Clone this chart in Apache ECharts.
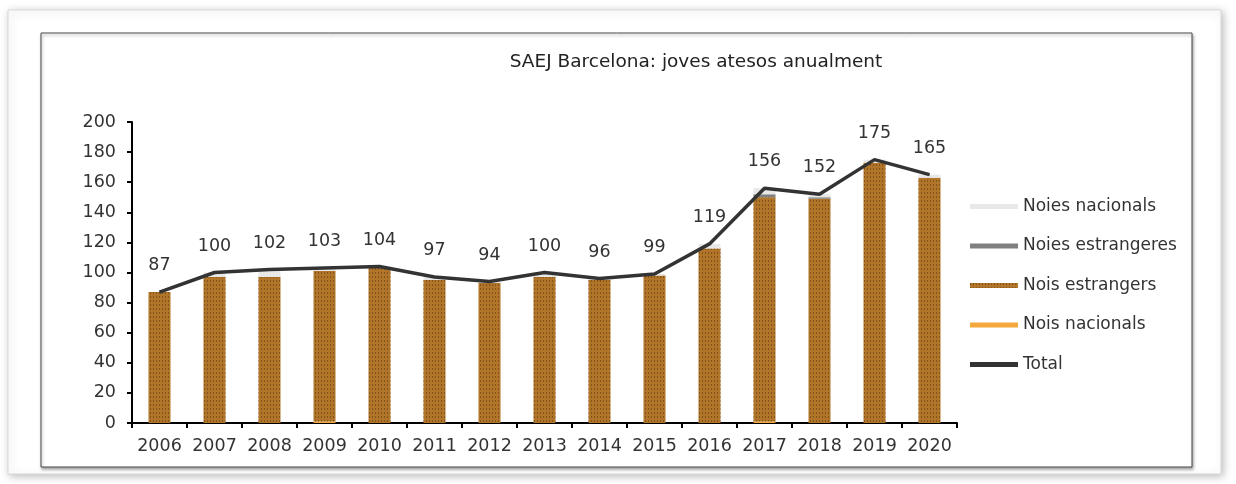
<!DOCTYPE html>
<html>
<head>
<meta charset="utf-8">
<script src="https://cdn.jsdelivr.net/npm/echarts@6/dist/echarts.min.js"></script>
<style>
html,body{margin:0;padding:0;background:#fff;}
#chart{width:1236px;height:484px;}
</style>
</head>
<body>
<div id="chart"></div>
<script>
const years = ['2006','2007','2008','2009','2010','2011','2012','2013','2014','2015','2016','2017','2018','2019','2020'];
const total = [87,100,102,103,104,97,94,100,96,99,119,156,152,175,165];
const noisNacionals = [0,0,0,1,0,0,0,0,0,0,0,1,0,0,0];
const noisEstrangers = [87,97,97,100,103,95,93,97,95,98,116,149,149,173,163];
const noiesEstrangeres = [0,0,0,0,0,0,0,0,0,0,0,2,1,0,0];
const noiesNacionals = [0,3,5,2,1,2,1,3,1,1,3,4,2,2,2];
const yTicks = [0,20,40,60,80,100,120,140,160,180,200];

const FONT = 'DejaVu Sans, Liberation Sans, Arial, sans-serif';
const chart = echarts.init(document.getElementById('chart'), null, {renderer:'canvas'});

const brown = '#B07528';
const option = {
  animation: false,
  backgroundColor: '#fff',
  graphic: [
    {type:'rect', z:-10, shape:{x:8,y:10,width:1213,height:464},
     style:{fill:'#fff', stroke:'#d8d8d8', lineWidth:1, shadowBlur:8, shadowColor:'rgba(0,0,0,0.25)', shadowOffsetX:2, shadowOffsetY:2}},
    {type:'rect', z:-9, shape:{x:41,y:33,width:1151,height:434},
     style:{fill:'#fff', stroke:'#4a4a4a', lineWidth:1, shadowBlur:3, shadowColor:'rgba(0,0,0,0.35)', shadowOffsetX:1, shadowOffsetY:2}}
  ],
  title: {
    text: 'SAEJ Barcelona: joves atesos anualment',
    left: 691, top: 48, textAlign: 'center',
    textStyle: {fontFamily: FONT, fontSize: 18.5, fontWeight: 'normal', color: '#222'}
  },
  legend: {
    orient: 'vertical', left: 965, top: 193, itemGap: 22.5,
    itemWidth: 48, itemHeight: 5,
    textStyle: {fontFamily: FONT, fontSize: 17, color: '#333'},
    data: [
      {name:'Noies nacionals', icon:'rect'},
      {name:'Noies estrangeres', icon:'rect'},
      {name:'Nois estrangers', icon:'rect'},
      {name:'Nois nacionals', icon:'rect'},
      {name:'Total', icon:'rect'}
    ]
  },
  grid: {left: 132, right: 279, top: 122, bottom: 61, containLabel: false},
  xAxis: {
    type: 'category', data: years, boundaryGap: true,
    axisLine: {lineStyle: {color: '#000', width: 2}},
    axisTick: {show: true, inside: false, length: 5, alignWithLabel: false, lineStyle: {color:'#000', width: 2}},
    axisLabel: {fontFamily: FONT, fontSize: 17.5, color: '#333', margin: 14, interval: 0}
  },
  yAxis: {
    type: 'value', min: 0, max: 200, interval: 20,
    axisLine: {show: true, lineStyle: {color: '#000', width: 2}},
    axisTick: {show: true, length: 5, lineStyle: {color:'#000', width: 2}},
    splitLine: {show: false},
    axisLabel: {fontFamily: FONT, fontSize: 17.5, color: '#333', margin: 16,
      formatter: v => yTicks.includes(v) ? String(v) : ''}
  },
  series: [
    {name:'Nois nacionals', type:'bar', stack:'a', barWidth: 22, data: noisNacionals,
     itemStyle:{color:'#F2A83A'}},
    {name:'Nois estrangers', type:'bar', stack:'a', barWidth: 22, data: noisEstrangers,
     itemStyle:{color: brown, decal:{symbol:'rect', symbolSize:1, color:'rgba(85,52,15,0.5)', dashArrayX:[1,2], dashArrayY:[2,2], rotation:0}}},
    {name:'Noies estrangeres', type:'bar', stack:'a', barWidth: 22, data: noiesEstrangeres,
     itemStyle:{color:'#808080'}},
    {name:'Noies nacionals', type:'bar', stack:'a', barWidth: 22, data: noiesNacionals,
     itemStyle:{color:'#E8E8E8'}},
    {name:'Total', type:'line', data: total, symbol:'circle', symbolSize: 1, showSymbol: true,
     lineStyle:{color:'#333', width: 3.5}, itemStyle:{color:'#333'},
     label:{show:true, position:'top', distance: 17, fontFamily: FONT, fontSize: 17.5, color:'#333'},
     z: 5}
  ]
};
chart.setOption(option);
</script>
</body>
</html>
